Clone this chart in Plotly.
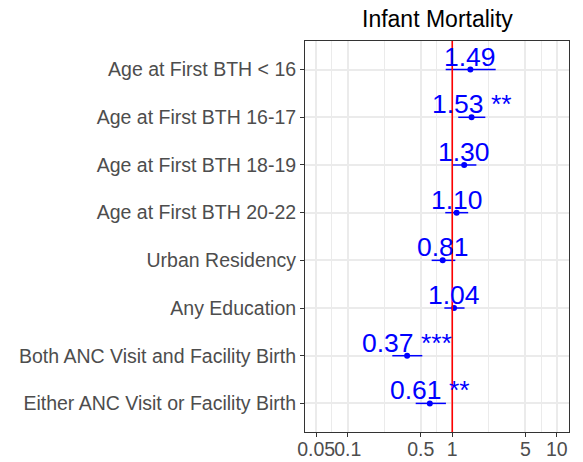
import math
import plotly.graph_objects as go

categories = [
    "Age at First BTH < 16",
    "Age at First BTH 16-17",
    "Age at First BTH 18-19",
    "Age at First BTH 20-22",
    "Urban Residency",
    "Any Education",
    "Both ANC Visit and Facility Birth",
    "Either ANC Visit or Facility Birth",
]
odds_ratio = [1.49, 1.53, 1.30, 1.10, 0.81, 1.04, 0.37, 0.61]
ci_low = [0.865, 1.14, 1.01, 0.857, 0.635, 0.84, 0.267, 0.447]
ci_high = [2.60, 2.07, 1.70, 1.42, 1.07, 1.31, 0.517, 0.87]
stars = ["", " **", "", "", "", "", " ***", " **"]

tick_vals = [0.05, 0.1, 0.5, 1, 5, 10]
tick_text = ["0.05", "0.1", "0.5", "1", "5", "10"]
# ggplot-style minor breaks: midway between major breaks on the log scale
minor_vals = [10 ** ((math.log10(a) + math.log10(b)) / 2) for a, b in zip(tick_vals[:-1], tick_vals[1:])]

FONT = "Liberation Sans, Arial, sans-serif"
BLUE = "#0000FF"

fig = go.Figure()
fig.add_trace(go.Scatter(
    x=odds_ratio,
    y=categories,
    mode="markers",
    marker=dict(color=BLUE, size=6),
    error_x=dict(
        type="data",
        symmetric=False,
        array=[h - o for h, o in zip(ci_high, odds_ratio)],
        arrayminus=[o - l for o, l in zip(odds_ratio, ci_low)],
        color=BLUE,
        thickness=1.5,
        width=0,
    ),
    showlegend=False,
    hoverinfo="skip",
))

for cat, o, s in zip(categories, odds_ratio, stars):
    fig.add_annotation(
        x=math.log10(o), y=cat, xref="x", yref="y",
        text=f"{o:.2f}{s}", showarrow=False,
        xanchor="center", yanchor="middle", yshift=13,
        font=dict(family=FONT, size=26.5, color=BLUE),
    )

fig.add_shape(type="line", xref="x", yref="paper", x0=1, x1=1, y0=0, y1=1,
              line=dict(color="#FF0000", width=1.6), layer="above")

fig.add_annotation(
    x=0.5, y=1, xref="paper", yref="paper", text="Infant Mortality",
    showarrow=False, xanchor="center", yanchor="bottom", yshift=7,
    font=dict(family=FONT, size=23, color="#000000"),
)

# page body has an 8px default margin, so the figure is sized to fit the window
fig.update_layout(
    width=575, height=454,
    margin=dict(l=297, r=14, t=33, b=30, autoexpand=False),
    paper_bgcolor="white", plot_bgcolor="white",
    font=dict(family=FONT),
    xaxis=dict(
        type="log", automargin=False,
        range=[-1.408, 1.116],
        tickmode="array", tickvals=tick_vals, ticktext=tick_text,
        tickangle=0, ticklabelstandoff=-4,
        tickfont=dict(family=FONT, size=19.5, color="#4D4D4D"),
        ticks="outside", ticklen=4, tickcolor="#333333", tickwidth=1,
        showgrid=True, gridcolor="#EBEBEB", gridwidth=1.5,
        minor=dict(tickmode="array", tickvals=minor_vals, showgrid=True,
                   gridcolor="#EBEBEB", gridwidth=0.8, ticks=""),
        showline=True, linecolor="#333333", linewidth=1, mirror=True,
        zeroline=False,
    ),
    yaxis=dict(
        type="category", automargin=False,
        categoryorder="array", categoryarray=categories,
        range=[7.6, -0.6],
        tickfont=dict(family=FONT, size=19.5, color="#4D4D4D"),
        ticks="outside", ticklen=4, tickcolor="#333333", tickwidth=1,
        showgrid=True, gridcolor="#EBEBEB", gridwidth=1.5,
        showline=True, linecolor="#333333", linewidth=1, mirror=True,
        zeroline=False,
    ),
)

fig.write_html("out.html")
